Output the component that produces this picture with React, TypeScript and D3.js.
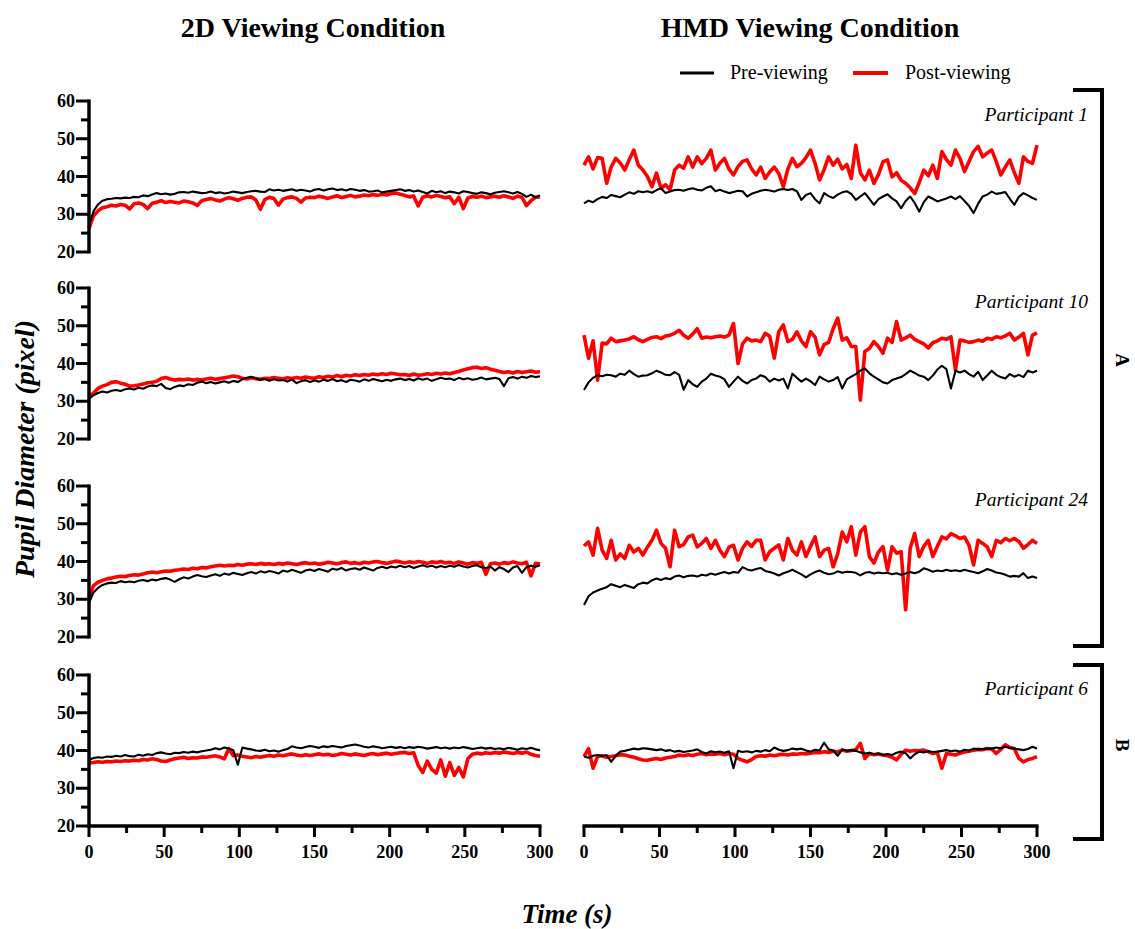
import React from "react";
import * as d3 from "d3";

// ---------- DATA (pupil diameter in pixels, sampled every 3 s) ----------
const TIME_S: number[] = d3.range(0, 301, 3);

const Y_TICKS = [20, 30, 40, 50, 60];
const Y_MINOR = [25, 35, 45, 55];
const X_TICKS = [0, 50, 100, 150, 200, 250, 300];
const X_MINOR = [25, 75, 125, 175, 225, 275];

const PARTICIPANTS = ["Participant 1", "Participant 10", "Participant 24", "Participant 6"];
const CONDITIONS = ["2D Viewing Condition", "HMD Viewing Condition"];
const SERIES_NAMES = ["Pre-viewing", "Post-viewing"];

// 2D, Participant 1
const P1_2D_PRE = [
  27.0, 30.8, 32.6, 33.6, 34.0, 34.1, 34.3, 34.2, 34.4, 34.3,
  34.6, 34.5, 35.0, 34.8, 35.2, 35.6, 35.3, 35.5, 35.2, 35.4,
  35.8, 35.9, 35.7, 36.0, 35.8, 35.6, 35.7, 36.0, 35.6, 35.8,
  35.5, 35.7, 36.0, 35.8, 35.6, 35.9, 36.1, 36.2, 36.0, 35.9,
  36.6, 36.3, 36.5, 36.2, 36.4, 36.6, 36.2, 36.5, 36.3, 36.0,
  36.5, 36.7, 36.3, 36.6, 36.8, 36.4, 36.6, 36.3, 36.7, 36.5,
  36.2, 36.4, 36.0, 36.1, 36.3, 35.8, 36.0, 36.2, 36.4, 36.6,
  36.2, 36.4, 36.0, 36.3, 35.9, 35.5, 36.2, 35.8, 36.1, 35.6,
  36.0, 35.8, 35.5, 36.1, 35.9, 35.6, 35.4, 35.8, 35.6, 35.3,
  35.7, 35.9, 36.1, 35.8, 35.5, 35.9, 35.4, 34.6, 35.2, 34.5,
  35.0,
];
const P1_2D_POST = [
  26.2, 29.6, 30.9, 31.7, 32.0, 32.4, 32.2, 32.6, 32.4, 31.4,
  32.8, 33.0, 32.6, 31.5, 32.9, 33.2, 33.6, 33.1, 33.4, 33.2,
  33.0, 33.5, 33.3, 33.0, 32.3, 33.6, 33.9, 34.2, 33.8, 33.5,
  34.0, 34.4, 34.1, 33.7, 34.2, 34.5, 34.6, 33.8, 31.3, 33.9,
  34.5, 34.2, 32.4, 34.0, 34.4, 34.6, 34.2, 33.2, 34.3, 34.5,
  34.4, 34.8, 34.5, 34.2, 34.6, 34.9, 34.4, 34.7, 35.0, 34.6,
  34.8, 35.1, 34.9, 35.2, 35.0, 35.3, 35.1, 35.5, 35.6, 35.3,
  35.0, 34.6, 34.8, 32.2, 34.5, 34.9, 34.6, 35.0, 34.7, 34.4,
  34.6, 32.8, 34.5, 31.5, 34.3, 34.7, 34.5, 34.8, 34.4, 34.6,
  34.8, 34.5, 34.9, 34.6, 34.2, 34.8, 34.5, 32.3, 33.6, 34.5,
  34.6,
];
// 2D, Participant 10
const P10_2D_PRE = [
  30.6, 31.6, 32.2, 32.6, 32.3, 32.8, 33.0, 32.7, 33.2, 33.4,
  33.1, 33.6, 33.3, 33.9, 34.2, 34.0, 34.6, 33.5, 33.2, 33.8,
  34.2, 34.0, 34.5, 34.3, 34.9, 35.2, 34.8, 35.1, 34.7, 35.0,
  35.3, 34.9, 35.4, 35.1, 35.8, 36.2, 36.5, 36.0, 35.7, 35.9,
  35.4, 35.8, 35.5, 35.6, 35.2, 35.8, 34.8, 35.3, 35.6, 35.1,
  35.5, 35.2, 35.7, 35.4, 35.9, 35.3, 35.6, 35.1, 35.7, 35.5,
  35.2, 35.8, 35.4, 35.9, 35.6, 35.3, 35.7, 35.4, 35.8, 36.0,
  35.6, 35.9, 35.5, 36.1, 35.7, 36.0, 35.4, 35.8, 36.2, 35.9,
  36.0, 35.6, 36.2, 35.8, 36.1, 35.7, 35.9, 36.3, 35.8, 36.0,
  36.2, 35.9, 34.0, 36.1, 36.4, 36.0, 36.5, 36.2, 36.7, 36.4,
  36.6,
];
const P10_2D_POST = [
  31.0, 32.2, 33.4, 34.0, 34.4, 35.0, 35.2, 34.8, 34.5, 34.0,
  34.1, 34.3, 34.6, 34.9, 35.0, 35.3, 36.0, 36.3, 35.9, 35.6,
  35.8, 35.7, 35.9, 35.6, 35.8, 35.6, 35.9, 36.1, 35.8, 36.0,
  36.2, 36.4, 36.7, 36.5, 36.1, 35.9, 36.2, 36.0, 35.8, 36.1,
  36.0, 36.3, 36.1, 35.9, 36.2, 36.0, 36.3, 36.1, 36.4, 36.2,
  36.1, 36.5, 36.3, 36.6, 36.4, 36.8, 36.5, 36.9, 36.7, 37.0,
  36.8, 37.1, 36.9, 37.2, 37.0, 37.3, 37.1, 37.4, 37.2, 37.0,
  37.1, 36.8, 37.2, 36.9, 37.0, 37.3, 37.1, 37.4, 37.2, 37.5,
  37.3, 37.6, 37.9, 38.3, 38.6, 38.9, 39.0, 38.7, 38.9, 38.5,
  38.2, 37.9, 37.6, 37.8, 37.5, 37.9, 37.6, 37.8, 38.0, 37.7,
  37.8,
];
// 2D, Participant 24
const P24_2D_PRE = [
  29.0, 31.8, 33.0, 33.8, 34.2, 34.4, 34.3, 34.8, 34.5, 34.7,
  34.5, 34.9, 35.1, 34.8, 35.2, 35.0, 35.4, 35.6, 35.2, 34.6,
  35.3, 35.8, 35.5, 36.0, 36.4, 36.1, 35.9, 36.3, 36.6, 36.2,
  36.8, 36.5, 37.0, 36.7, 36.4, 36.9, 37.2, 36.8, 37.4, 37.1,
  37.5, 37.2, 36.8, 37.6, 37.3, 37.8, 37.4, 37.0, 37.6, 37.9,
  37.5, 38.0, 37.7, 37.3, 38.1, 37.8, 38.3, 37.6, 38.0, 38.2,
  37.8, 38.4, 38.0, 37.6, 38.3, 38.6, 38.2, 38.7, 38.4, 38.9,
  38.5, 38.8, 38.3, 38.7, 39.0, 38.6, 38.9, 38.4, 38.8, 38.5,
  38.9, 38.6, 39.1, 38.7, 38.4, 38.8, 39.0, 38.5, 38.2, 38.7,
  37.6, 38.5, 38.0, 37.2, 38.4, 38.8, 37.0, 38.5, 38.9, 38.6,
  39.0,
];
const P24_2D_POST = [
  30.5, 33.6, 34.5, 35.0, 35.4, 35.6, 35.9, 36.1, 36.0, 36.3,
  36.5, 36.4, 36.7, 37.0, 37.2, 37.0, 37.3, 37.5, 37.4, 37.7,
  37.8, 38.0, 37.9, 38.2, 38.1, 38.4, 38.3, 38.6, 38.8, 39.0,
  38.8, 39.0, 38.9, 39.2, 39.0, 39.3, 39.4, 39.2, 39.5, 39.3,
  39.4, 39.2, 39.5, 39.3, 39.6, 39.4, 39.2, 39.5, 39.7, 39.4,
  39.6, 39.3, 39.5, 39.8, 39.6, 39.4, 39.7, 39.9, 39.5, 39.7,
  39.4, 39.8, 39.6, 39.9, 40.0, 39.7, 39.5, 39.8, 40.1, 39.9,
  39.6, 39.9, 39.7, 40.0, 39.8, 39.5, 39.9, 39.7, 40.0, 39.6,
  39.8, 39.5, 39.9, 39.6, 39.3, 39.7, 39.5, 39.8, 36.6, 39.4,
  39.6, 39.3, 39.7, 39.5, 39.9, 39.6, 39.4, 39.8, 36.2, 39.5,
  39.3,
];
// 2D, Participant 6
const P6_2D_PRE = [
  37.5, 38.0, 38.2, 38.1, 38.4, 38.3, 38.6, 38.4, 38.8, 38.5,
  38.4, 38.9, 38.6, 39.0, 38.8, 39.3, 39.5, 39.2, 39.0, 39.4,
  39.3, 39.6, 39.4, 39.7, 39.5, 39.8, 40.0, 40.2, 40.6, 40.3,
  40.8, 40.5, 40.1, 36.2, 40.8, 40.5, 40.3, 40.0, 39.9, 40.2,
  39.8, 40.0, 39.7, 40.1, 40.4, 41.1, 40.8, 40.6, 40.9, 41.2,
  41.0, 40.7, 41.1, 40.9, 41.2, 41.0, 40.8, 41.2, 41.4, 41.6,
  41.3, 41.0, 40.8, 41.1, 40.9, 40.6, 40.8, 41.0, 40.7, 40.9,
  40.6, 40.9, 40.7, 41.0, 40.8, 40.5, 40.7, 40.9, 40.6, 40.8,
  40.5, 40.8, 40.6, 40.9, 40.7, 40.4, 40.6, 40.8, 40.5, 40.7,
  40.4, 40.6, 40.3, 40.7, 40.5, 40.2, 40.6, 40.4, 40.7, 40.3,
  40.1,
];
const P6_2D_POST = [
  36.7, 36.8, 37.0, 36.9, 37.1, 37.0, 37.2, 37.1, 37.3, 37.2,
  37.4, 37.3, 37.6, 37.5, 37.8, 37.6, 37.2, 37.1, 37.5, 37.8,
  38.0, 38.2, 37.9, 38.1, 38.0, 38.3, 38.2, 38.4, 38.6, 38.3,
  37.8, 40.5, 38.6, 38.8, 38.5, 38.3, 38.1, 38.4, 38.2, 38.5,
  38.7, 38.5, 38.8, 38.6, 38.9, 39.1, 38.8, 38.6, 38.9, 38.7,
  38.9, 39.1, 38.8, 39.0, 38.7, 38.9, 39.2, 39.0, 38.8, 39.1,
  38.9, 38.7, 39.0, 39.2, 38.9, 39.1, 39.3, 39.0, 39.2, 39.4,
  39.5, 39.2, 39.4, 36.0, 34.2, 37.2, 35.0, 34.0, 37.5, 33.2,
  36.8, 33.4, 35.5, 33.0, 37.8, 39.0, 39.3, 39.1, 39.4, 39.2,
  39.5, 39.3, 39.6, 39.4, 39.2, 39.5, 39.3, 39.6, 39.0, 38.7,
  38.5,
];
// HMD, Participant 1
const P1_HMD_PRE = [
  32.9, 33.6, 33.2, 34.0, 34.6, 34.3, 35.1, 34.8, 34.5, 35.2,
  35.8, 35.4, 36.1, 35.8, 36.1, 35.7, 36.4, 36.9, 35.6, 36.0,
  36.4, 36.5, 36.2, 36.6, 36.9, 36.5, 36.3, 37.0, 37.4, 36.1,
  36.5, 36.0, 35.6, 35.9, 36.2, 36.1, 34.7, 35.4, 35.8, 36.2,
  36.5, 36.3, 36.0, 36.5, 36.7, 36.4, 36.7, 36.1, 33.8, 35.1,
  35.6, 34.0, 32.9, 35.6, 34.8, 34.3, 35.2, 35.8, 36.1, 35.4,
  33.8, 34.7, 35.6, 34.1, 32.5, 34.0, 34.7, 35.3, 34.2, 33.4,
  31.6, 33.5, 34.7, 33.0, 30.7, 33.2, 34.7, 34.1, 33.4, 33.8,
  34.2, 34.7, 34.0, 34.8, 33.5, 32.2, 30.3, 32.8, 34.7, 35.2,
  36.0, 35.4, 35.6, 35.9, 34.1, 32.5, 34.6, 35.6, 35.0, 34.3,
  33.8,
];
const P1_HMD_POST = [
  43.0, 45.2, 42.0, 45.0, 44.8, 38.2, 42.5, 44.8, 43.6, 41.7,
  44.5, 47.0, 43.0, 41.7, 40.0, 37.3, 40.9, 36.9, 37.8, 36.5,
  41.7, 43.0, 42.2, 45.2, 42.5, 45.2, 43.4, 44.8, 47.0, 41.7,
  43.5, 44.8, 42.0, 40.4, 42.6, 44.0, 44.4, 42.0, 40.4, 42.5,
  39.5, 41.2, 42.5, 40.8, 37.3, 42.0, 44.8, 42.6, 43.5, 45.0,
  47.0, 43.5, 39.1, 41.8, 45.2, 43.0, 44.6, 42.0, 43.2, 39.5,
  48.3, 41.0, 39.1, 41.7, 38.2, 40.5, 43.9, 44.4, 39.9, 41.0,
  39.0, 38.2, 37.0, 35.5, 38.4, 41.7, 40.2, 43.0, 39.5, 46.6,
  44.5, 43.0, 47.0, 44.8, 41.3, 44.0, 46.6, 48.0, 45.2, 46.2,
  47.0, 44.0, 40.4, 42.5, 44.4, 41.0, 38.2, 45.2, 44.0, 43.5,
  48.3,
];
// HMD, Participant 10
const P10_HMD_PRE = [
  33.0, 35.0, 36.2, 36.9, 36.6, 37.0, 36.9, 36.5, 37.3, 37.0,
  38.1, 37.2, 36.5, 36.8, 36.9, 37.4, 38.1, 37.6, 37.0, 36.9,
  37.7, 37.0, 33.0, 35.6, 34.5, 33.8, 35.2, 36.0, 37.3, 36.8,
  36.5, 35.8, 33.8, 35.2, 36.5, 35.4, 34.7, 35.6, 36.0, 36.9,
  36.4, 35.2, 36.0, 35.5, 36.0, 33.4, 37.3, 36.2, 35.2, 36.0,
  35.3, 34.3, 36.5, 35.8, 35.2, 35.6, 36.4, 33.4, 35.8, 36.5,
  37.2, 38.1, 38.7, 37.4, 36.5, 35.8, 35.0, 34.7, 35.6, 36.0,
  36.4, 37.2, 38.1, 37.5, 36.8, 36.5, 35.6, 36.8, 38.4, 39.4,
  38.5, 33.4, 38.1, 37.6, 38.1, 37.2, 36.5, 37.8, 35.6, 36.8,
  38.1, 37.0, 36.4, 36.0, 37.2, 36.5, 37.0, 36.4, 38.1, 37.6,
  38.1,
];
const P10_HMD_POST = [
  47.5, 41.4, 46.0, 35.6, 45.4, 45.2, 46.7, 45.8, 46.0, 46.2,
  46.5, 47.1, 46.3, 45.8, 46.4, 46.9, 47.1, 46.6, 47.3, 47.5,
  48.0, 48.8, 47.5, 46.7, 47.8, 49.2, 46.7, 47.0, 46.8, 47.1,
  47.3, 47.0, 47.5, 50.6, 40.0, 45.2, 46.7, 46.0, 46.2, 45.8,
  48.0, 47.2, 41.4, 48.5, 50.2, 45.8, 46.4, 48.4, 46.0, 44.5,
  48.4, 47.0, 42.3, 45.0, 45.6, 49.2, 52.0, 46.2, 46.8, 44.5,
  44.5, 30.3, 43.2, 44.0, 45.8, 44.5, 42.7, 46.7, 45.6, 51.1,
  46.2, 46.8, 47.5, 46.4, 45.8, 45.2, 44.1, 45.5, 46.0, 46.7,
  46.4, 47.1, 38.3, 46.2, 46.0, 45.6, 45.8, 46.2, 45.9, 46.7,
  46.4, 47.1, 46.8, 47.3, 48.0, 46.2, 47.0, 48.0, 42.3, 47.5,
  48.1,
];
// HMD, Participant 24
const P24_HMD_PRE = [
  28.5, 30.8, 31.8, 32.3, 32.8, 33.2, 34.0, 33.6, 33.2, 33.8,
  33.4, 33.0, 34.0, 34.4, 34.2, 35.0, 35.5, 35.1, 35.6, 35.3,
  36.0, 36.3, 35.8, 36.2, 36.3, 36.0, 36.5, 36.3, 36.8, 36.5,
  36.9, 37.2, 36.8, 37.2, 37.0, 38.5, 37.9, 37.6, 38.0, 38.3,
  37.5, 37.2, 36.8, 36.3, 36.9, 37.3, 37.8, 37.2, 36.6, 35.8,
  36.6, 37.2, 37.6, 37.0, 36.6, 36.8, 37.4, 37.0, 37.3, 37.2,
  37.0, 36.3, 37.0, 37.2, 36.8, 37.1, 36.9, 37.0, 36.6, 36.9,
  36.5, 36.8, 37.2, 36.9, 37.3, 38.2, 37.8, 37.3, 37.6, 37.4,
  37.8, 37.5, 37.7, 37.4, 37.8, 37.5, 37.2, 36.9, 37.4, 38.0,
  37.6, 37.1, 36.9, 36.5, 36.0, 36.2, 36.0, 36.9, 35.6, 36.0,
  35.6,
];
const P24_HMD_POST = [
  44.1, 45.2, 41.7, 48.8, 43.0, 40.8, 45.6, 40.4, 42.0, 40.8,
  44.3, 42.5, 43.5, 41.7, 43.8, 45.6, 48.3, 44.8, 43.5, 38.6,
  48.3, 43.9, 44.5, 46.5, 47.0, 43.9, 44.8, 46.1, 43.5, 45.6,
  43.0, 41.3, 43.8, 44.3, 40.4, 43.5, 45.2, 44.0, 45.6, 45.6,
  40.4, 42.6, 43.5, 44.4, 40.4, 46.1, 43.0, 41.7, 45.2, 41.3,
  44.0, 46.5, 41.3, 43.0, 43.5, 38.6, 42.0, 47.8, 45.2, 49.2,
  41.7, 47.8, 49.2, 41.3, 39.6, 42.5, 43.9, 37.7, 43.9, 42.2,
  42.6, 27.2, 43.5, 47.4, 41.3, 44.0, 45.6, 41.3, 44.0, 46.5,
  46.0, 47.4, 46.8, 46.1, 46.5, 44.3, 39.1, 45.6, 44.8, 43.9,
  41.3, 45.6, 45.0, 46.1, 45.5, 46.1, 45.3, 43.5, 44.5, 45.6,
  44.8,
];
// HMD, Participant 6
const P6_HMD_PRE = [
  38.4, 38.1, 38.6, 38.8, 38.5, 38.8, 37.0, 38.6, 39.7, 39.9,
  40.2, 40.5, 40.3, 40.6, 40.5, 40.3, 40.1, 40.3, 39.9, 40.1,
  39.7, 39.9, 39.6, 39.8, 40.0, 40.3, 39.6, 39.2, 39.8, 39.5,
  39.7, 39.4, 39.8, 35.3, 39.9, 39.6, 39.8, 39.5, 39.9, 39.7,
  40.1, 39.8, 40.8, 40.2, 39.9, 40.1, 40.5, 40.3, 40.5, 40.0,
  39.7, 40.2, 40.0, 42.1, 40.3, 40.0, 38.6, 40.3, 39.9, 40.1,
  39.9, 39.5, 39.2, 39.4, 39.0, 39.2, 38.8, 39.1, 38.8, 39.4,
  39.7, 39.3, 37.9, 39.0, 39.7, 39.5, 39.8, 39.6, 39.7, 39.9,
  40.1, 39.8, 40.0, 39.7, 40.2, 40.0, 40.5, 40.3, 40.4, 40.5,
  40.5, 40.8, 40.6, 41.0, 40.7, 40.5, 40.3, 40.1, 40.4, 41.0,
  40.5,
];
const P6_HMD_POST = [
  38.4, 40.5, 35.3, 38.4, 38.6, 38.2, 38.4, 38.6, 38.9, 38.8,
  38.5, 38.2, 37.8, 37.5, 37.4, 37.7, 37.9, 37.6, 38.0, 38.2,
  38.4, 38.8, 38.6, 38.9, 38.7, 39.0, 39.2, 38.9, 39.1, 39.0,
  39.2, 38.9, 39.2, 39.0, 37.9, 37.4, 37.0, 37.6, 38.4, 38.6,
  38.5, 38.8, 38.6, 38.9, 39.0, 38.8, 39.1, 39.0, 39.2, 39.1,
  39.3, 39.5, 39.4, 39.7, 39.5, 39.8, 39.6, 40.1, 39.8, 40.0,
  40.2, 41.9, 37.9, 39.2, 38.9, 39.1, 38.8, 38.6, 38.2, 37.5,
  39.0, 40.1, 39.8, 40.0, 39.9, 40.1, 39.7, 39.2, 39.5, 35.3,
  39.2, 39.0, 38.8, 39.3, 39.6, 39.8, 40.1, 40.3, 40.2, 40.5,
  40.4, 39.2, 40.3, 41.5, 40.8, 40.5, 37.9, 37.0, 37.6, 37.9,
  38.4,
];

// rows = participants, columns = [2D, HMD], each [pre, post]
const PANELS = [
  [[P1_2D_PRE, P1_2D_POST], [P1_HMD_PRE, P1_HMD_POST]],
  [[P10_2D_PRE, P10_2D_POST], [P10_HMD_PRE, P10_HMD_POST]],
  [[P24_2D_PRE, P24_2D_POST], [P24_HMD_PRE, P24_HMD_POST]],
  [[P6_2D_PRE, P6_2D_POST], [P6_HMD_PRE, P6_HMD_POST]],
];

// ---------- LAYOUT ----------
const W = 1135;
const H = 929;
const FONT = "'Liberation Serif', 'Times New Roman', serif";
const PANEL_TOP = [101, 288, 486, 675];
const PANEL_H = 151;
const COL_X = [
  [89, 540],
  [584, 1037],
];
const PRE_COLOR = "#000000";
const POST_COLOR = "#ff0000";

export default function App() {
  const yScales = PANEL_TOP.map((top) =>
    d3.scaleLinear().domain([20, 60]).range([top + PANEL_H, top])
  );
  const xScales = COL_X.map((r) => d3.scaleLinear().domain([0, 300]).range(r));
  const bottom = PANEL_TOP[3] + PANEL_H;

  return (
    <svg
      width={W}
      height={H}
      style={{ position: "absolute", left: 0, top: 0, background: "#fff" }}
      fontFamily={FONT}
    >
      {/* column titles */}
      {CONDITIONS.map((c, i) => (
        <text
          key={c}
          x={i === 0 ? 313 : 810}
          y={37}
          textAnchor="middle"
          fontWeight="bold"
          fontSize={28}
        >
          {c}
        </text>
      ))}

      {/* legend */}
      <line x1={680} x2={714} y1={73} y2={73} stroke={PRE_COLOR} strokeWidth={3} />
      <text x={730} y={79} fontSize={20}>{SERIES_NAMES[0]}</text>
      <line x1={853} x2={888} y1={73} y2={73} stroke={POST_COLOR} strokeWidth={4} />
      <text x={905} y={79} fontSize={20}>{SERIES_NAMES[1]}</text>

      {/* panels */}
      {PANELS.map((row, ri) =>
        row.map((pair, ci) => {
          const x = xScales[ci];
          const y = yScales[ri];
          const line = d3
            .line<number>()
            .x((_, i) => x(TIME_S[i]))
            .y((v) => y(v));
          return (
            <g key={`${ri}-${ci}`}>
              <path
                d={line(pair[1]) || ""}
                fill="none"
                stroke={POST_COLOR}
                strokeWidth={3.6}
                strokeLinejoin="round"
              />
              <path
                d={line(pair[0]) || ""}
                fill="none"
                stroke={PRE_COLOR}
                strokeWidth={2.1}
                strokeLinejoin="round"
              />
            </g>
          );
        })
      )}

      {/* y axes on left column */}
      {yScales.map((y, ri) => (
        <g key={`ya${ri}`}>
          <line
            x1={COL_X[0][0]}
            x2={COL_X[0][0]}
            y1={y(60) - 1.5}
            y2={y(20) + 1.5}
            stroke="#000"
            strokeWidth={3.5}
          />
          {Y_TICKS.map((t) => (
            <g key={t}>
              <line
                x1={COL_X[0][0] - 13}
                x2={COL_X[0][0]}
                y1={y(t)}
                y2={y(t)}
                stroke="#000"
                strokeWidth={3}
              />
              <text
                x={COL_X[0][0] - 14}
                y={y(t)}
                dy="0.34em"
                textAnchor="end"
                fontWeight="bold"
                fontSize={18}
              >
                {t}
              </text>
            </g>
          ))}
          {Y_MINOR.map((t) => (
            <line
              key={t}
              x1={COL_X[0][0] - 8}
              x2={COL_X[0][0]}
              y1={y(t)}
              y2={y(t)}
              stroke="#000"
              strokeWidth={3}
            />
          ))}
        </g>
      ))}

      {/* x axes on bottom row */}
      {xScales.map((x, ci) => (
        <g key={`xa${ci}`}>
          <line
            x1={x(0) - 1.5}
            x2={x(300) + 1.5}
            y1={bottom}
            y2={bottom}
            stroke="#000"
            strokeWidth={3.5}
          />
          {X_TICKS.map((t) => (
            <g key={t}>
              <line x1={x(t)} x2={x(t)} y1={bottom} y2={bottom + 11} stroke="#000" strokeWidth={3} />
              <text
                x={x(t)}
                y={bottom + 32}
                textAnchor="middle"
                fontWeight="bold"
                fontSize={18}
              >
                {t}
              </text>
            </g>
          ))}
          {X_MINOR.map((t) => (
            <line key={t} x1={x(t)} x2={x(t)} y1={bottom} y2={bottom + 7} stroke="#000" strokeWidth={3} />
          ))}
        </g>
      ))}

      {/* participant labels */}
      {PARTICIPANTS.map((p, ri) => (
        <text
          key={p}
          x={1088}
          y={PANEL_TOP[ri] + 20}
          textAnchor="end"
          fontStyle="italic"
          fontSize={19.5}
        >
          {p}
        </text>
      ))}

      {/* brackets */}
      <path d="M1073,90 H1102 V646 H1073" fill="none" stroke="#000" strokeWidth={4} />
      <path d="M1073,665 H1102 V839 H1073" fill="none" stroke="#000" strokeWidth={4} />
      <text
        transform="translate(1116,360) rotate(90)"
        textAnchor="middle"
        fontWeight="bold"
        fontSize={19}
      >
        A
      </text>
      <text
        transform="translate(1116,745) rotate(90)"
        textAnchor="middle"
        fontWeight="bold"
        fontSize={19}
      >
        B
      </text>

      {/* axis titles */}
      <text
        transform="translate(34,449) rotate(-90)"
        textAnchor="middle"
        fontWeight="bold"
        fontStyle="italic"
        fontSize={28}
      >
        Pupil Diameter (pixel)
      </text>
      <text
        x={567}
        y={923}
        textAnchor="middle"
        fontWeight="bold"
        fontStyle="italic"
        fontSize={27}
      >
        Time (s)
      </text>
    </svg>
  );
}
